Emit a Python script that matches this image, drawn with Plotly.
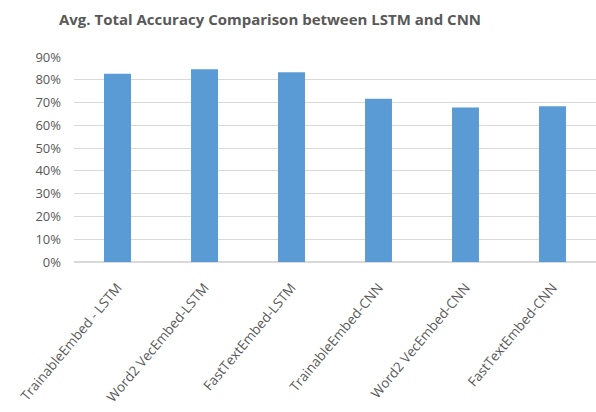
import plotly.graph_objects as go

categories = ["TrainableEmbed - LSTM", "Word2VecEmbed-LSTM", "FastTextEmbed-LSTM",
              "TrainableEmbed-CNN", "Word2VecEmbed-CNN", "FastTextEmbed-CNN"]
tick_text = ["TrainableEmbed - LSTM", "Word2 VecEmbed-LSTM", "FastTextEmbed-LSTM",
             "TrainableEmbed-CNN", "Word2 VecEmbed-CNN", "FastTextEmbed-CNN"]
accuracy = [0.827, 0.846, 0.833, 0.717, 0.678, 0.684]
y_ticks = [0, 0.1, 0.2, 0.3, 0.4, 0.5, 0.6, 0.7, 0.8, 0.9]
y_tick_labels = ["0%", "10%", "20%", "30%", "40%", "50%", "60%", "70%", "80%", "90%"]

fig = go.Figure(go.Bar(x=categories, y=accuracy, marker_color="#5B9BD5", marker_line_width=0))

fig.update_layout(
    width=596, height=412,
    margin=dict(l=74, r=0, t=57, b=150),
    paper_bgcolor="white", plot_bgcolor="white",
    bargap=0.69,
    title=dict(text="<b>Avg. Total Accuracy Comparison between LSTM and CNN</b>",
               x=270/596, xanchor="center", y=1-20/412, yanchor="middle",
               font=dict(family="Open Sans", size=15, color="#595959")),
    font=dict(family="Open Sans", color="#595959"),
    showlegend=False,
)
fig.update_yaxes(range=[0, 0.9], tickvals=y_ticks, ticktext=y_tick_labels,
                 showgrid=True, gridcolor="#D9D9D9", gridwidth=1,
                 zeroline=True, zerolinecolor="#D9D9D9", showline=False,
                 tickfont=dict(size=13, color="#595959"), ticks="",
                 ticklabelstandoff=12)
fig.update_xaxes(tickangle=-50, tickvals=categories, ticktext=tick_text,
                 tickfont=dict(size=13.5, color="#595959"),
                 showline=False, ticks="", ticklabelstandoff=14)

fig.write_html("out.html")
